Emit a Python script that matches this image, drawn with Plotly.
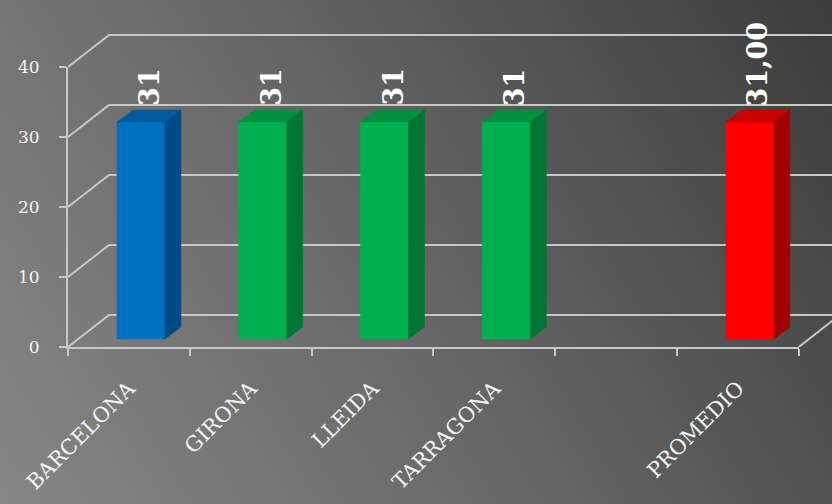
import base64
import plotly.graph_objects as go

# ---------------- data ----------------
categories = ["BARCELONA", "GIRONA", "LLEIDA", "TARRAGONA", "", "PROMEDIO"]
values = [31, 31, 31, 31, None, 31]
value_labels = ["31", "31", "31", "31", "", "31,00"]
y_ticks = [0, 10, 20, 30, 40]

# ---------------- style ----------------
W, H = 832, 504
PL, PR, PT, PB = 68, 832, 30, 347          # plot area in pixels
KX = 121.8                                  # px per category
KY = 7.0                                    # px per value unit
DEPTH_PX = (41, 32)                         # 3D wall depth
FRONT_PX = (12, 8)                          # bar front offset inside floor
SIDE_PX = (16, 12)                          # bar depth
BAR_W_PX = 48
GRID = "#c8c8c8"
face_colors = {
    "blue": ("#0070C0", "#005A9E", "#004A85"),
    "green": ("#00B050", "#00913F", "#007534"),
    "red": ("#FF0000", "#C80000", "#A00000"),
}
bar_styles = ["blue", "green", "green", "green", "green", "red"]
FONT = "DejaVu Serif"

x0 = -0.5
x1 = x0 + (PR - PL) / KX
y1 = (PB - PT) / KY
DX, DY = DEPTH_PX[0] / KX, DEPTH_PX[1] / KY
FX, FY = FRONT_PX[0] / KX, FRONT_PX[1] / KY
SX, SY = SIDE_PX[0] / KX, SIDE_PX[1] / KY
BW = BAR_W_PX / KX

fig = go.Figure()

def poly(xs, ys, color, width=0.5):
    fig.add_trace(go.Scatter(
        x=xs + [xs[0]], y=ys + [ys[0]],
        mode="lines", fill="toself", fillcolor=color,
        line=dict(color=color, width=width),
        hoverinfo="skip", showlegend=False))

# back wall + side wall gridlines
for g in y_ticks:
    fig.add_trace(go.Scatter(
        x=[x0, x0 + DX, x1 + 1], y=[g, g + DY, g + DY], mode="lines",
        line=dict(color=GRID, width=2), hoverinfo="skip", showlegend=False))
# floor right edge
n = len(categories)
fig.add_trace(go.Scatter(
    x=[x0 + n, x0 + n + DX], y=[0, DY], mode="lines",
    line=dict(color=GRID, width=2), hoverinfo="skip", showlegend=False))

# bars
for i, v in enumerate(values):
    if v is None:
        continue
    front, top, side = face_colors[bar_styles[i]]
    cx = i + FX
    xl, xr = cx - BW / 2, cx + BW / 2
    b = FY
    t = FY + v
    poly([xl, xr, xr, xl], [b, b, t, t], front)
    poly([xl, xr, xr + SX, xl + SX], [t, t, t + SY, t + SY], top)
    poly([xr, xr + SX, xr + SX, xr], [b, b + SY, t + SY, t], side)
    fig.add_annotation(
        x=cx + SX / 2, y=t + SY, xref="x", yref="y", text=value_labels[i],
        textangle=-90, showarrow=False, xanchor="center", yanchor="bottom",
        yshift=2, font=dict(family=FONT, size=27, color="white", weight="bold"))

# axes-holder trace
fig.add_trace(go.Scatter(x=[None], y=[None], xaxis="x2", yaxis="y2",
                         hoverinfo="skip", showlegend=False))

# background gradient
svg = (f'<svg xmlns="http://www.w3.org/2000/svg" width="{W}" height="{H}">'
       f'<defs><linearGradient id="g" gradientUnits="userSpaceOnUse" '
       f'x1="0" y1="{H}" x2="{W}" y2="0">'
       '<stop offset="0" stop-color="#868686"/>'
       '<stop offset="0.45" stop-color="#686868"/>'
       '<stop offset="1" stop-color="#3c3c3c"/>'
       '</linearGradient></defs>'
       f'<rect width="{W}" height="{H}" fill="url(#g)"/></svg>')
src = "data:image/svg+xml;base64," + base64.b64encode(svg.encode()).decode()
pw, ph = PR - PL, PB - PT

fig.update_layout(
    width=W, height=H,
    margin=dict(l=PL, r=W - PR, t=PT, b=H - PB, pad=0),
    paper_bgcolor="#5f5f5f", plot_bgcolor="rgba(0,0,0,0)",
    images=[dict(source=src, xref="paper", yref="paper",
                 x=-PL / pw, y=1 + PT / ph, sizex=W / pw, sizey=H / ph,
                 xanchor="left", yanchor="top", sizing="stretch", layer="below")],
    showlegend=False,
    xaxis=dict(domain=[0, 1], range=[x0, x1], anchor="y",
               tickmode="array", tickvals=list(range(n)), ticktext=categories,
               tickangle=-45, ticks="", showgrid=False, zeroline=False,
               showline=False, ticklabelstandoff=24,
               tickfont=dict(family=FONT, size=21, color="#f4f4f4")),
    yaxis=dict(domain=[0, 1], range=[0, y1], visible=False),
    xaxis2=dict(domain=[0, (n * KX) / pw], range=[0, n], anchor="y2",
                tickmode="array", tickvals=list(range(n + 1)),
                showticklabels=False, ticks="outside", ticklen=7,
                tickwidth=2, tickcolor=GRID, showline=True, linecolor=GRID,
                linewidth=2, showgrid=False, zeroline=False),
    yaxis2=dict(domain=[0, (max(y_ticks) * KY) / ph], range=[0, max(y_ticks)],
                anchor="x2", tickmode="array", tickvals=y_ticks,
                ticks="outside", ticklen=7, tickwidth=2, tickcolor=GRID,
                showline=True, linecolor=GRID, linewidth=2, showgrid=False,
                zeroline=False, ticklabelstandoff=16,
                tickfont=dict(family=FONT, size=17, color="#f4f4f4")),
)

fig.write_html("out.html", config={"displayModeBar": False},
               post_script="document.body.style.margin='0px';")
